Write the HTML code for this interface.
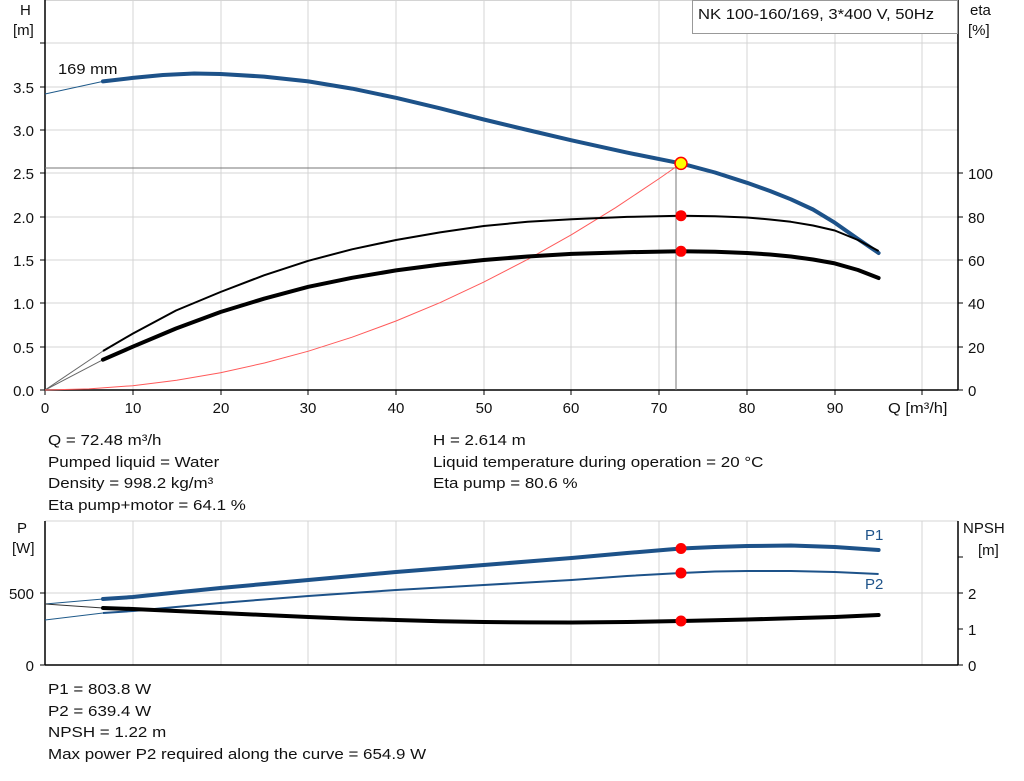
<!DOCTYPE html>
<html><head><meta charset="utf-8"><style>
html,body{margin:0;padding:0;background:#fff;}
svg{display:block;font-family:"Liberation Sans",sans-serif;}
</style></head><body>
<svg width="1024" height="781" viewBox="0 0 1024 781" xmlns="http://www.w3.org/2000/svg">
<g stroke="#d4d4d4" stroke-width="1">
<line x1="133" y1="0" x2="133" y2="390"/><line x1="221" y1="0" x2="221" y2="390"/><line x1="308" y1="0" x2="308" y2="390"/><line x1="396" y1="0" x2="396" y2="390"/><line x1="484" y1="0" x2="484" y2="390"/><line x1="571" y1="0" x2="571" y2="390"/><line x1="659" y1="0" x2="659" y2="390"/><line x1="747" y1="0" x2="747" y2="390"/><line x1="835" y1="0" x2="835" y2="390"/><line x1="922" y1="0" x2="922" y2="390"/>
<line x1="45" y1="0.5" x2="958" y2="0.5"/><line x1="45" y1="43" x2="958" y2="43"/><line x1="45" y1="87" x2="958" y2="87"/><line x1="45" y1="130" x2="958" y2="130"/><line x1="45" y1="173" x2="958" y2="173"/><line x1="45" y1="217" x2="958" y2="217"/><line x1="45" y1="260" x2="958" y2="260"/><line x1="45" y1="303" x2="958" y2="303"/><line x1="45" y1="347" x2="958" y2="347"/>
<line x1="133" y1="521" x2="133" y2="665"/><line x1="221" y1="521" x2="221" y2="665"/><line x1="308" y1="521" x2="308" y2="665"/><line x1="396" y1="521" x2="396" y2="665"/><line x1="484" y1="521" x2="484" y2="665"/><line x1="571" y1="521" x2="571" y2="665"/><line x1="659" y1="521" x2="659" y2="665"/><line x1="747" y1="521" x2="747" y2="665"/><line x1="835" y1="521" x2="835" y2="665"/><line x1="922" y1="521" x2="922" y2="665"/>
<line x1="45" y1="521" x2="958" y2="521"/><line x1="45" y1="593" x2="958" y2="593"/>
</g>
<g stroke="#000" stroke-width="1.5" fill="none">
<line x1="45" y1="0" x2="45" y2="390"/><line x1="45" y1="390" x2="958" y2="390"/><line x1="958" y1="0" x2="958" y2="390"/>
<line x1="45" y1="521" x2="45" y2="665"/><line x1="45" y1="665" x2="958" y2="665"/><line x1="958" y1="521" x2="958" y2="665"/>
</g>
<g stroke="#000" stroke-width="1">
<line x1="40" y1="43" x2="45" y2="43"/><line x1="40" y1="87" x2="45" y2="87"/><line x1="40" y1="130" x2="45" y2="130"/><line x1="40" y1="173" x2="45" y2="173"/><line x1="40" y1="217" x2="45" y2="217"/><line x1="40" y1="260" x2="45" y2="260"/><line x1="40" y1="303" x2="45" y2="303"/><line x1="40" y1="347" x2="45" y2="347"/><line x1="40" y1="390" x2="45" y2="390"/>
<line x1="958" y1="173" x2="963" y2="173"/><line x1="958" y1="217" x2="963" y2="217"/><line x1="958" y1="260" x2="963" y2="260"/><line x1="958" y1="303" x2="963" y2="303"/><line x1="958" y1="347" x2="963" y2="347"/><line x1="958" y1="390" x2="963" y2="390"/>
<line x1="45" y1="390" x2="45" y2="395"/><line x1="133" y1="390" x2="133" y2="395"/><line x1="221" y1="390" x2="221" y2="395"/><line x1="308" y1="390" x2="308" y2="395"/><line x1="396" y1="390" x2="396" y2="395"/><line x1="484" y1="390" x2="484" y2="395"/><line x1="571" y1="390" x2="571" y2="395"/><line x1="659" y1="390" x2="659" y2="395"/><line x1="747" y1="390" x2="747" y2="395"/><line x1="835" y1="390" x2="835" y2="395"/><line x1="922" y1="390" x2="922" y2="395"/>
<line x1="40" y1="593" x2="45" y2="593"/><line x1="40" y1="665" x2="45" y2="665"/>
<line x1="958" y1="557" x2="963" y2="557"/><line x1="958" y1="593" x2="963" y2="593"/><line x1="958" y1="629" x2="963" y2="629"/><line x1="958" y1="665" x2="963" y2="665"/>
</g>
<g font-size="15" fill="#111" text-anchor="end">
<text x="34" y="93">3.5</text><text x="34" y="136">3.0</text><text x="34" y="179">2.5</text><text x="34" y="223">2.0</text><text x="34" y="266">1.5</text><text x="34" y="309">1.0</text><text x="34" y="353">0.5</text><text x="34" y="396">0.0</text>
<text x="34" y="599">500</text><text x="34" y="671">0</text>
</g>
<g font-size="15" fill="#111">
<text x="968" y="179">100</text><text x="968" y="223">80</text><text x="968" y="266">60</text><text x="968" y="309">40</text><text x="968" y="353">20</text><text x="968" y="396">0</text>
<text x="968" y="599">2</text><text x="968" y="635">1</text><text x="968" y="671">0</text>
<text x="970" y="15">eta</text><text x="968" y="35">[%]</text>
<text x="20" y="15">H</text><text x="13" y="35">[m]</text>
<text x="17" y="533">P</text><text x="12" y="553">[W]</text>
<text x="963" y="533">NPSH</text><text x="978" y="555">[m]</text>
<text x="58" y="74" transform="translate(58,0) scale(1.1,1) translate(-58,0)">169 mm</text>
<text x="888" y="413" transform="translate(888,0) scale(1.1,1) translate(-888,0)">Q [m³/h]</text>
</g>
<g font-size="15" fill="#111" text-anchor="middle">
<text x="45" y="413">0</text><text x="133" y="413">10</text><text x="221" y="413">20</text><text x="308" y="413">30</text><text x="396" y="413">40</text><text x="484" y="413">50</text><text x="571" y="413">60</text><text x="659" y="413">70</text><text x="747" y="413">80</text><text x="835" y="413">90</text>
</g>
<rect x="692.5" y="0.5" width="265" height="33" fill="#fff" stroke="#999"/>
<text x="698" y="19" font-size="15" fill="#111" transform="translate(698,0) scale(1.11,1) translate(-698,0)">NK 100-160/169, 3*400 V, 50Hz</text>
<line x1="45" y1="168" x2="676" y2="168" stroke="#777" stroke-width="1"/>
<line x1="676" y1="168" x2="676" y2="390" stroke="#777" stroke-width="1"/>
<g fill="none" stroke-width="1">
<line x1="45" y1="94" x2="103" y2="81.4" stroke="#1f5a8a"/>
<line x1="45" y1="390" x2="103" y2="351" stroke="#666"/>
<line x1="45" y1="390" x2="103" y2="359.7" stroke="#666"/>
<line x1="45" y1="604" x2="103" y2="599" stroke="#1f5a8a"/>
<line x1="45" y1="620" x2="103" y2="613" stroke="#1f5a8a"/>
<line x1="45" y1="604" x2="103" y2="608" stroke="#333"/>
</g>
<polyline fill="none" stroke="#ff5a5a" stroke-width="1" points="45,390 88.9,388.9 132.8,385.7 176.6,380.3 220.5,372.7 264.4,363 308.3,351.2 352.1,337.2 396,321 439.9,302.7 483.8,282.1 527.6,259.4 571.5,234.7 615.4,207.8 659.3,178.5 681,163.4"/>
<polyline fill="none" stroke="#1d5289" stroke-width="4" stroke-linejoin="round" stroke-linecap="round" points="103,81.4 132.8,77.9 163,75 194.2,73.5 220.5,74 264,76.6 308.3,81.4 352,88.6 396,97.8 440,108.3 483.8,119.5 527.6,130 571.5,140.3 627,152.6 681,163.4 715,172.5 747,182.8 770,191 790.9,199.3 813,209.5 834.8,222.7 858,239 878.6,253"/>
<polyline fill="none" stroke="#000" stroke-width="2" stroke-linejoin="round" points="103,351 132.8,333.6 176,310.5 220.5,292 264,275.3 308.3,260.8 352,249.3 396,240 440,232.4 483.8,226 527.6,221.8 571.5,219.2 627,216.9 681,215.7 715,216.2 747,217.5 770,219.5 790.9,221.8 813,225.5 834.8,230.5 858,240 878.6,251"/>
<polyline fill="none" stroke="#000" stroke-width="4" stroke-linejoin="round" stroke-linecap="round" points="103,359.7 132.8,346.7 176,328.5 220.5,312 264,298.7 308.3,286.8 352,277.8 396,270.4 440,264.6 483.8,260 527.6,256.5 571.5,253.9 627,252.2 681,251.3 715,251.8 747,253 770,254.5 790.9,256.5 813,259.5 834.8,263.4 858,270 878.6,278"/>
<polyline fill="none" stroke="#1d5289" stroke-width="4" stroke-linejoin="round" stroke-linecap="round" points="103,599 132.8,597 176,592.5 220.5,588 264,584 308.3,580 352,576 396,572 440,568.5 483.8,565 527.6,561.5 571.5,558 627,553 681,548.5 715,547 747,546 790.9,545.5 834.8,547 878.6,550"/>
<polyline fill="none" stroke="#1d5289" stroke-width="2" stroke-linejoin="round" points="103,613 132.8,611 176,607 220.5,603 264,599.5 308.3,596 352,593 396,590 440,587.5 483.8,585 527.6,582.5 571.5,580 627,576 681,573 715,571.5 747,571 790.9,571 834.8,572 878.6,574"/>
<polyline fill="none" stroke="#000" stroke-width="4" stroke-linejoin="round" stroke-linecap="round" points="103,608 132.8,609 176,611 220.5,613 264,615 308.3,617 352,618.7 396,620 440,621.2 483.8,622 527.6,622.4 571.5,622.5 627,622 681,621 715,620.3 747,619.5 790.9,618.3 834.8,617 878.6,615"/>
<text x="865" y="540" font-size="15" fill="#1d5289">P1</text>
<text x="865" y="589" font-size="15" fill="#1d5289">P2</text>
<circle cx="681" cy="163.4" r="6" fill="#ffff00" stroke="#ff0000" stroke-width="1.5"/>
<g fill="#ff0000">
<circle cx="681" cy="215.7" r="5.5"/><circle cx="681" cy="251.3" r="5.5"/>
<circle cx="681" cy="548.5" r="5.5"/><circle cx="681" cy="573" r="5.5"/><circle cx="681" cy="621" r="5.5"/>
</g>
<g font-size="15" fill="#111" transform="translate(48,0) scale(1.13,1) translate(-48,0)">
<text x="48" y="445">Q = 72.48 m³/h</text>
<text x="48" y="467">Pumped liquid = Water</text>
<text x="48" y="488">Density = 998.2 kg/m³</text>
<text x="48" y="510">Eta pump+motor = 64.1 %</text>
<text x="48" y="694">P1 = 803.8 W</text>
<text x="48" y="716">P2 = 639.4 W</text>
<text x="48" y="737">NPSH = 1.22 m</text>
<text x="48" y="759">Max power P2 required along the curve = 654.9 W</text>
</g>
<g font-size="15" fill="#111" transform="translate(433,0) scale(1.13,1) translate(-433,0)">
<text x="433" y="445">H = 2.614 m</text>
<text x="433" y="467">Liquid temperature during operation = 20 °C</text>
<text x="433" y="488">Eta pump = 80.6 %</text>
</g>
</svg>
</body></html>
